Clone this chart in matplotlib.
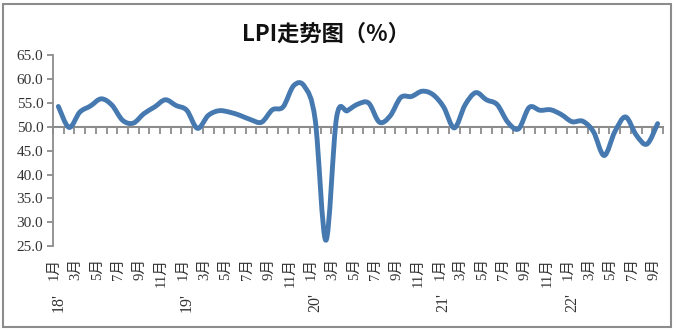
import numpy as np
import matplotlib
matplotlib.use("Agg")
import matplotlib.pyplot as plt
import matplotlib.transforms as mtransforms
from matplotlib.path import Path
from matplotlib.patches import PathPatch, Rectangle

plt.rcParams['font.family'] = ['Liberation Serif', 'Noto Sans CJK SC']

# LPI monthly values, Jan 2018 .. Sep 2022
lpi = [54.3, 49.9, 53.1, 54.4, 55.9, 54.6, 51.4, 50.8, 52.8, 54.2, 55.7, 54.5,
       53.5, 49.7, 52.4, 53.4, 53.1, 52.4, 51.5, 51.0, 53.6, 54.2, 58.7, 58.5,
       51.5, 26.2, 52.0, 53.4, 54.8, 55.0, 51.0, 52.3, 56.2, 56.4, 57.5, 56.8,
       54.2, 49.8, 54.6, 57.2, 55.7, 54.7, 51.0, 49.6, 54.1, 53.5, 53.6, 52.6,
       51.1, 51.2, 49.0, 44.0, 49.0, 52.1, 48.3, 46.4, 50.7]
years = ["18'", "19'", "20'", "21'", "22'"]
month_names = ["1月", "2月", "3月", "4月", "5月", "6月",
               "7月", "8月", "9月", "10月", "11月", "12月"]
yticks = [25, 30, 35, 40, 45, 50, 55, 60, 65]

n = len(lpi)
x = np.arange(n)
y = np.array(lpi)

fig = plt.figure(figsize=(6.76, 3.31), dpi=100)
ax = fig.add_axes([53/676, 85/331, 610/676, 190.5/331])
ax.set_xlim(-0.5, n - 0.5)
ax.set_ylim(25, 65)

# smooth line like excel (bezier through the points)
xp = np.concatenate([[x[0]], x, [x[-1]]])
yp = np.concatenate([[y[0]], y, [y[-1]]])
verts = [(x[0], y[0])]
codes = [Path.MOVETO]
for i in range(n - 1):
    c1 = (x[i] + (xp[i+2] - xp[i]) / 6, y[i] + (yp[i+2] - yp[i]) / 6)
    c2 = (x[i+1] - (xp[i+3] - xp[i+1]) / 6, y[i+1] - (yp[i+3] - yp[i+1]) / 6)
    verts += [c1, c2, (x[i+1], y[i+1])]
    codes += [Path.CURVE4] * 3
ax.add_patch(PathPatch(Path(verts, codes), fill=False, edgecolor='#4579b0',
                       lw=3.5, capstyle='round', joinstyle='round', zorder=3))

for s in ['top', 'right', 'bottom']:
    ax.spines[s].set_visible(False)
ax.spines['left'].set_color('#8c8c8c')
ax.spines['left'].set_linewidth(1.3)
ax.set_yticks(yticks)
ax.set_yticklabels(['%.1f' % v for v in yticks], fontsize=11, color='#333333')
ax.tick_params(axis='y', direction='out', length=4, width=1.3, color='#8c8c8c', pad=3)

# month labels at the bottom, every second month
lab_pos = [i for i in range(n) if i % 2 == 0]
ax.set_xticks(lab_pos)
ax.set_xticklabels([month_names[i % 12] for i in lab_pos], rotation=90,
                   fontsize=10.5, va='top', ha='center', color='#333333')
ax.tick_params(axis='x', length=0, pad=9)
off = mtransforms.ScaledTranslation(-4/100, 0, fig.dpi_scale_trans)
for lab in ax.get_xticklabels():
    lab.set_transform(lab.get_transform() + off)

# year labels
trans = mtransforms.blended_transform_factory(ax.transData, ax.transAxes)
for k, yr in enumerate(years):
    ax.text(k * 12, -0.25, yr, transform=trans, rotation=90, ha='center',
            va='top', fontsize=11.5, color='#333333')

# category axis crossing at 50
sec = ax.secondary_xaxis((50 - 25) / (65 - 25))
for sp in sec.spines.values():
    sp.set_color('#8c8c8c')
    sp.set_linewidth(1.5)
sec.set_xticks(np.arange(n + 1) - 0.5)
sec.set_xticklabels([])
sec.tick_params(direction='in', length=5, width=1.3, color='#8c8c8c')

fig.text(326/676, 1 - 34/331, 'LPI走势图（%）', ha='center', va='center',
         fontsize=16, fontweight='bold', family=['Noto Sans CJK SC'], color='#111111')

fig.patches.append(Rectangle((3/676, 4/331), 668/676, 323/331, transform=fig.transFigure,
                             fill=False, edgecolor='#8c8c8c', lw=1.5))

fig.savefig('out.png', dpi=100)
